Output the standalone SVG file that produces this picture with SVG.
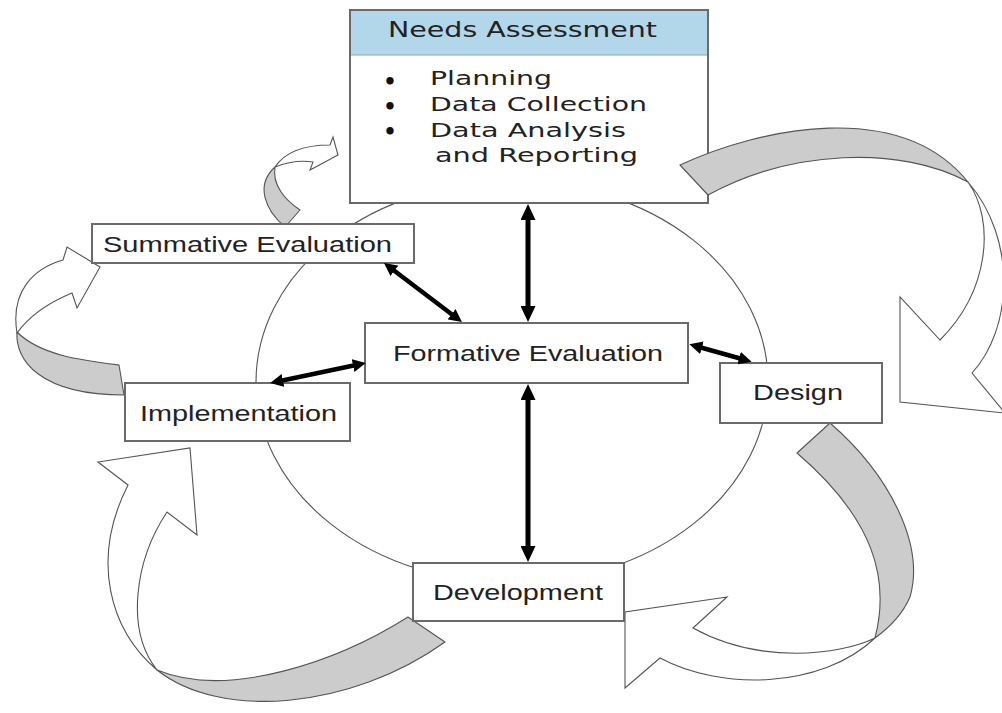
<svg xmlns="http://www.w3.org/2000/svg" width="1002" height="713" viewBox="0 0 1002 713">
<style>
.box{fill:#fff;stroke:#6a6a6a;stroke-width:2}
.lbl{font-family:"Liberation Sans",Arial,sans-serif;font-size:22px;fill:#222}
.na{font-family:"DejaVu Sans",Verdana,sans-serif;fill:#222}
.bul{font-family:"DejaVu Sans",Verdana,sans-serif;fill:#111;font-size:21px;font-weight:bold;text-anchor:middle}
.band{fill:#cccccc;stroke:#555;stroke-width:1.1;stroke-linejoin:round}
.body{fill:#fff;stroke:#555;stroke-width:1.1;stroke-linejoin:miter}
.link{stroke:#000;stroke-width:4.5;fill:none;marker-start:url(#ah);marker-end:url(#ah)}
.vlink{stroke:#000;stroke-width:5;fill:none;marker-start:url(#ahb);marker-end:url(#ahb)}
</style>
<defs>
<marker id="ah" markerUnits="userSpaceOnUse" markerWidth="14" markerHeight="13" refX="3" refY="6.5" orient="auto-start-reverse" viewBox="0 0 14 13">
<path d="M0,0 L13,6.5 L0,13 z" fill="#000"/>
</marker>
<marker id="ahb" markerUnits="userSpaceOnUse" markerWidth="16" markerHeight="15" refX="4" refY="7.5" orient="auto-start-reverse" viewBox="0 0 16 15">
<path d="M0,0 L16,7.5 L0,15 z" fill="#000"/>
</marker>
</defs>
<rect width="1002" height="713" fill="#fff"/>
<ellipse cx="512" cy="382" rx="256" ry="201" fill="none" stroke="#555" stroke-width="1.1"/>

<g id="needs-assessment">
<rect class="box" x="350" y="10" width="358" height="193"/>
<rect x="351" y="11" width="356" height="44" fill="#b3d7ea"/>
<line x1="351" y1="55" x2="707" y2="55" stroke="#8aa" stroke-width="1"/>
<text class="na" x="388" y="37" font-size="21" textLength="269" lengthAdjust="spacingAndGlyphs">Needs Assessment</text>
<text class="bul" x="390" y="88.5">•</text>
<text class="bul" x="390" y="113.5">•</text>
<text class="bul" x="390" y="138.5">•</text>
<text class="na" x="430" y="85" font-size="19.5" textLength="122" lengthAdjust="spacingAndGlyphs">Planning</text>
<text class="na" x="430" y="111" font-size="19.5" textLength="217" lengthAdjust="spacingAndGlyphs">Data Collection</text>
<text class="na" x="430" y="137" font-size="19.5" textLength="196" lengthAdjust="spacingAndGlyphs">Data Analysis</text>
<text class="na" x="435" y="162" font-size="19.5" textLength="203" lengthAdjust="spacingAndGlyphs">and Reporting</text>
</g>

<g id="cycle-arrows">
<path class="band" d="M680,165 C760,128 900,98 968,182 C900,145 790,150 708,195 Z"/>
<path class="body" d="M968,182 C995,220 990,290 940,340 L900,297 L900,402 L1005,413 L972,373 C1012,330 1018,240 968,182 Z"/>
<path class="band" d="M830,423 C890,475 925,545 910,597 Q900,620 875,638 C890,580 875,520 797,453 Z"/>
<path class="body" d="M875,638 C840,655 760,665 693,628 L727,597 L625,612 L625,688 L660,658 C720,690 820,690 875,638 Z"/>
<path class="band" d="M408,617 C340,660 230,700 157,670 C220,720 350,710 445,642 Z"/>
<path class="body" d="M157,670 C110,630 90,560 128,485 L98,462 L190,448 L197,535 L167,512 C135,560 125,630 157,670 Z"/>
<path class="band" d="M119,365 C80,360 40,355 17,332 C15,360 40,395 124,395 Z"/>
<path class="body" d="M17,333 C10,290 35,268 63,260 L67,247 L100,267 L77,308 L72,293 C50,302 30,315 17,333 Z"/>
<path class="band" d="M285,227 C265,210 255,185 275,167 C272,185 285,200 300,210 Z"/>
<path class="body" d="M275,167 C285,152 305,145 330,145 L333,137 L338,155 L310,170 L313,162 C300,160 285,163 275,167 Z"/>
</g>

<g id="summative-evaluation">
<rect class="box" x="92" y="224" width="322" height="39"/>
<text class="lbl" x="103" y="252" textLength="289" lengthAdjust="spacingAndGlyphs">Summative Evaluation</text>
</g>
<g id="formative-evaluation">
<rect class="box" x="365" y="323" width="323" height="60"/>
<text class="lbl" x="393" y="361" textLength="270" lengthAdjust="spacingAndGlyphs">Formative Evaluation</text>
</g>
<g id="implementation">
<rect class="box" x="125" y="383" width="225" height="58"/>
<text class="lbl" x="140" y="421" textLength="197" lengthAdjust="spacingAndGlyphs">Implementation</text>
</g>
<g id="design">
<rect class="box" x="720" y="363" width="162" height="60"/>
<text class="lbl" x="753" y="400" textLength="90" lengthAdjust="spacingAndGlyphs">Design</text>
</g>
<g id="development">
<rect class="box" x="413" y="563" width="211" height="58"/>
<text class="lbl" x="433" y="600" textLength="170" lengthAdjust="spacingAndGlyphs">Development</text>
</g>

<g id="connectors">
<line class="vlink" x1="528" y1="216" x2="528" y2="310"/>
<line class="vlink" x1="528" y1="396" x2="528" y2="550"/>
<line class="link" x1="392" y1="269" x2="454" y2="316"/>
<line class="link" x1="280" y1="381" x2="356" y2="365" stroke-width="3.8"/>
<line class="link" x1="699" y1="347" x2="742" y2="359"/>
</g>
</svg>
